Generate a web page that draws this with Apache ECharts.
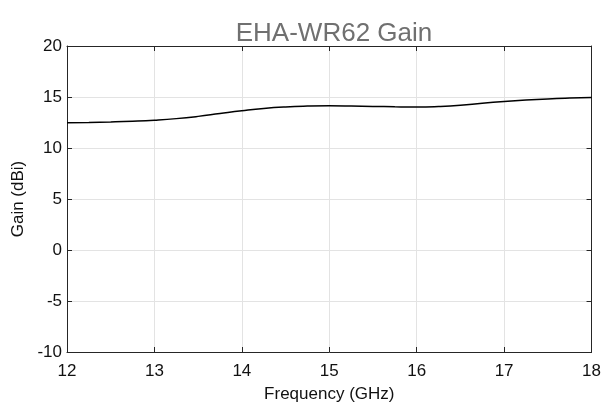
<!DOCTYPE html>
<html><head><meta charset="utf-8">
<script src="https://cdn.jsdelivr.net/npm/echarts@6/dist/echarts.min.js"></script>
<style>html,body{margin:0;padding:0;background:#fff}#c{width:604px;height:408px}</style>
</head><body><div id="c"></div>
<script>
const freqGHz = [12, 12.25, 12.5, 12.75, 13, 13.25, 13.5, 13.75, 14, 14.25, 14.5, 14.75, 15, 15.25, 15.5, 15.75, 16, 16.25, 16.5, 16.75, 17, 17.25, 17.5, 17.75, 18];
const gainDBi = [12.48, 12.51, 12.56, 12.63, 12.73, 12.88, 13.1, 13.38, 13.65, 13.88, 14.03, 14.11, 14.14, 14.12, 14.08, 14.04, 14.02, 14.07, 14.19, 14.39, 14.56, 14.7, 14.81, 14.89, 14.95];
const titleText = 'EHA-WR62 Gain';
const xName = 'Frequency (GHz)';
const yName = 'Gain (dBi)';

const font = 'Liberation Sans, Arial, Helvetica, sans-serif';
const axisColor = '#262626';
const gridColor = '#e3e3e3';
const chart = echarts.init(document.getElementById('c'), null, {renderer: 'canvas'});
const hiddenAxis = {
  axisLine: {show: true, onZero: false, lineStyle: {color: axisColor, width: 1}},
  axisTick: {show: true, inside: true, length: 5, lineStyle: {color: axisColor}},
  axisLabel: {show: false},
  splitLine: {show: false}
};
chart.setOption({
  animation: false,
  backgroundColor: '#fff',
  title: {
    text: titleText, left: 329, top: 16, textAlign: 'center',
    textStyle: {fontFamily: font, fontSize: 26, fontWeight: 'normal', color: '#707070'}
  },
  grid: {left: 67, right: 12, top: 46, bottom: 41, containLabel: false},
  xAxis: [{
    type: 'value', min: 12, max: 18, interval: 1, position: 'bottom',
    name: xName, nameLocation: 'middle', nameGap: 34,
    nameTextStyle: {fontFamily: font, fontSize: 17, color: '#111'},
    axisLine: {show: true, onZero: false, lineStyle: {color: axisColor, width: 1}},
    axisTick: {show: true, inside: true, length: 5, lineStyle: {color: axisColor}},
    axisLabel: {fontFamily: font, fontSize: 17, color: '#111', margin: 11},
    splitLine: {show: true, lineStyle: {color: gridColor, width: 1}}
  }, Object.assign({type: 'value', min: 12, max: 18, interval: 1, position: 'top'}, hiddenAxis)],
  yAxis: [{
    type: 'value', min: -10, max: 20, interval: 5, position: 'left',
    name: yName, nameLocation: 'middle', nameGap: 31, nameRotate: 90,
    nameTextStyle: {fontFamily: font, fontSize: 17, color: '#111'},
    axisLine: {show: true, onZero: false, lineStyle: {color: axisColor, width: 1}},
    axisTick: {show: true, inside: true, length: 5, lineStyle: {color: axisColor}},
    axisLabel: {fontFamily: font, fontSize: 17, color: '#111', margin: 5},
    splitLine: {show: true, lineStyle: {color: gridColor, width: 1}}
  }, Object.assign({type: 'value', min: -10, max: 20, interval: 5, position: 'right'}, hiddenAxis)],
  series: [{
    type: 'line', xAxisIndex: 0, yAxisIndex: 0,
    data: freqGHz.map((f, i) => [f, gainDBi[i]]),
    smooth: true, showSymbol: false,
    lineStyle: {color: '#000', width: 1.5}
  }]
});
</script></body></html>
